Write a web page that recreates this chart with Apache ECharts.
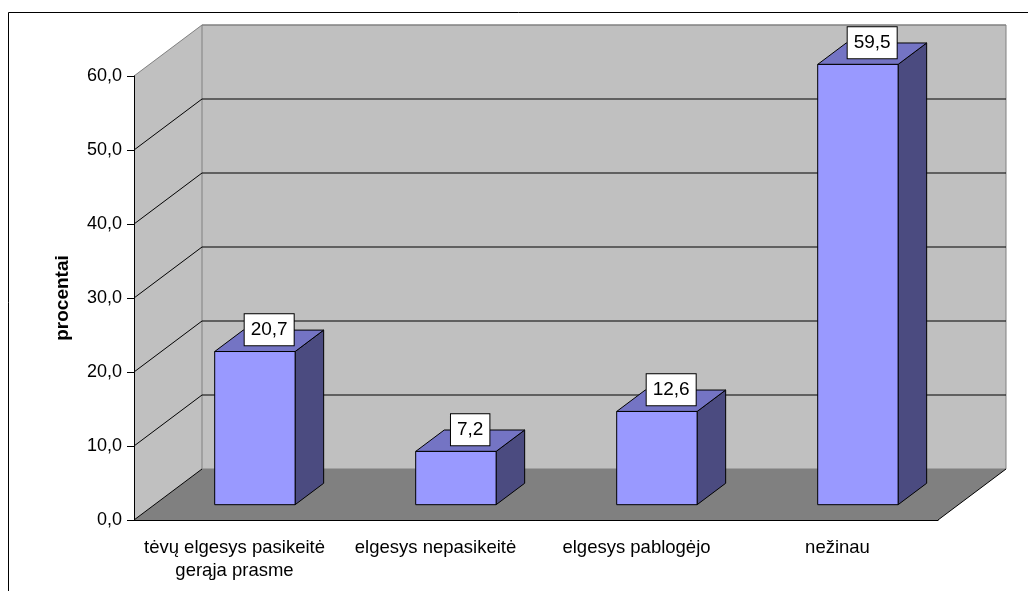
<!DOCTYPE html>
<html>
<head>
<meta charset="utf-8">
<script src="https://cdn.jsdelivr.net/npm/echarts@6/dist/echarts.min.js"></script>
<style>
html, body { margin: 0; padding: 0; background: #fff; }
#chart { width: 1028px; height: 591px; }
</style>
</head>
<body>
<div id="chart"></div>
<script>
// data
const categories = ['tėvų elgesys pasikeitė\ngerąja prasme', 'elgesys nepasikeitė', 'elgesys pablogėjo', 'nežinau'];
const values = [20.7, 7.2, 12.6, 59.5];
const yTicks = [0, 10, 20, 30, 40, 50, 60];

// 3d look
const DEPTH = [68, -51];
const BAR_FRONT = 0.3;   // where the bar starts in the depth
const BAR_DEPTH = 0.42;  // how deep the bar is
const FONT = 'Liberation Sans, Arial, sans-serif';

function fmt(v) {
  return v.toFixed(1).replace('.', ',');
}

function renderWalls(params, api) {
  var cs = params.coordSys;
  var L = cs.x, R = cs.x + cs.width, T = cs.y, B = cs.y + cs.height;
  var dx = DEPTH[0], dy = DEPTH[1];
  return {
    type: 'group',
    children: [
      { type: 'polygon', shape: { points: [[L, T], [L + dx, T + dy], [L + dx, B + dy], [L, B]] },
        style: { fill: '#C0C0C0' } },
      { type: 'rect', shape: { x: L + dx, y: T + dy, width: cs.width, height: cs.height },
        style: { fill: '#C0C0C0', stroke: '#808080', lineWidth: 1 } },
      { type: 'polygon', shape: { points: [[L, B], [R, B], [R + dx, B + dy], [L + dx, B + dy]] },
        style: { fill: '#808080' } },
      { type: 'line', shape: { x1: R, y1: B, x2: R + dx, y2: B + dy },
        style: { stroke: '#000', lineWidth: 1 } }
    ]
  };
}

function renderGrid(params, api) {
  var cs = params.coordSys;
  var L = cs.x, R = cs.x + cs.width;
  var dx = DEPTH[0], dy = DEPTH[1];
  var v = api.value(1);
  var y = api.coord([0, v])[1];
  var isTop = v === yTicks[yTicks.length - 1];
  var col = isTop ? '#808080' : '#000';
  var kids = [
    { type: 'line', shape: { x1: L, y1: y, x2: L + dx, y2: y + dy }, style: { stroke: col, lineWidth: 1 } }
  ];
  if (v !== 0) {
    kids.push({ type: 'line', shape: { x1: L + dx, y1: y + dy, x2: R + dx, y2: y + dy }, style: { stroke: col, lineWidth: 1 } });
  }
  return { type: 'group', children: kids };
}

function renderBar(params, api) {
  var i = api.value(0), v = api.value(1);
  var top = api.coord([i, v]);
  var base = api.coord([i, 0]);
  var band = api.size([1, 0])[0];
  var w = band * 0.4;
  var fx = DEPTH[0] * BAR_FRONT, fy = DEPTH[1] * BAR_FRONT;
  var bx = DEPTH[0] * BAR_DEPTH, by = DEPTH[1] * BAR_DEPTH;
  var x0 = top[0] + fx - w / 2, x1 = x0 + w;
  var yT = top[1] + fy, yB = base[1] + fy;
  var edge = { stroke: '#000', lineWidth: 1 };
  return {
    type: 'group',
    children: [
      { type: 'polygon', shape: { points: [[x1, yT], [x1 + bx, yT + by], [x1 + bx, yB + by], [x1, yB]] },
        style: Object.assign({ fill: '#4B4B80' }, edge) },
      { type: 'polygon', shape: { points: [[x0, yT], [x1, yT], [x1 + bx, yT + by], [x0 + bx, yT + by]] },
        style: Object.assign({ fill: '#7474C4' }, edge) },
      { type: 'rect', shape: { x: x0, y: yT, width: w, height: yB - yT },
        style: Object.assign({ fill: '#9999FF' }, edge) },
      { type: 'text', x: x0 + w / 2 + bx / 2, y: yT + by / 2 - 11,
        style: {
          text: fmt(v), font: '19px ' + FONT, fill: '#000',
          align: 'center', verticalAlign: 'middle', lineHeight: 21,
          backgroundColor: '#fff', borderColor: '#000', borderWidth: 1, padding: [5, 6]
        } }
    ]
  };
}

var chart = echarts.init(document.getElementById('chart'));
var option = {
  animation: false,
  backgroundColor: '#fff',
  graphic: [
    { type: 'rect', shape: { x: 8.5, y: 12.5, width: 1100, height: 700 },
      style: { fill: 'none', stroke: '#000', lineWidth: 1 }, z: 100 }
  ],
  grid: { left: 134, right: 90, top: 76, bottom: 71 },
  xAxis: {
    type: 'category',
    data: categories,
    z: 10,
    axisLine: { lineStyle: { color: '#000', width: 1 } },
    axisTick: { length: 7, lineStyle: { color: '#000' } },
    axisLabel: { color: '#000', fontSize: 18.5, fontFamily: FONT, lineHeight: 23, margin: 16, interval: 0 },
    splitLine: { show: false }
  },
  yAxis: {
    type: 'value',
    min: 0,
    max: 60,
    interval: 10,
    z: 10,
    name: 'procentai',
    nameLocation: 'middle',
    nameGap: 62,
    nameTextStyle: { color: '#000', fontSize: 19, fontWeight: 'bold', fontFamily: FONT },
    axisLine: { show: true, lineStyle: { color: '#000', width: 1 } },
    axisTick: { show: true, length: 7, lineStyle: { color: '#000' } },
    axisLabel: { color: '#000', fontSize: 18, fontFamily: FONT, margin: 12, formatter: fmt },
    splitLine: { show: false }
  },
  series: [
    { type: 'custom', z: 1, data: [[0, 0]], renderItem: renderWalls, silent: true },
    { type: 'custom', z: 2, data: yTicks.map(function (v) { return [0, v]; }), encode: { x: 0, y: 1 },
      renderItem: renderGrid, silent: true },
    { type: 'custom', z: 3, data: values.map(function (v, i) { return [i, v]; }), encode: { x: 0, y: 1 },
      renderItem: renderBar }
  ]
};
chart.setOption(option);
</script>
</body>
</html>
